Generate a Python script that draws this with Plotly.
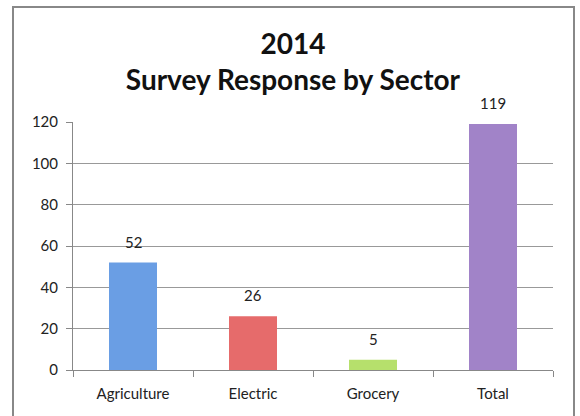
import plotly.graph_objects as go

categories = ["Agriculture", "Electric", "Grocery", "Total"]
responses = [52, 26, 5, 119]
bar_colors = ["#6A9EE4", "#E66B6B", "#B6E06C", "#A183C8"]
y_ticks = [0, 20, 40, 60, 80, 100, 120]

fig = go.Figure()
fig.add_trace(go.Bar(
    x=categories,
    y=responses,
    marker=dict(color=bar_colors, line=dict(width=0)),
    width=0.4,
    cliponaxis=False,
))

for c, v in zip(categories, responses):
    fig.add_annotation(
        x=c, y=v, text=str(v), showarrow=False,
        yanchor="bottom", yshift=10,
        font=dict(family="Lato", size=15, color="#222222"),
    )

fig.update_layout(
    width=580,
    height=416,
    paper_bgcolor="white",
    plot_bgcolor="white",
    margin=dict(l=73, r=27, t=122, b=46),
    showlegend=False,
    title=dict(
        text="2014<br>Survey Response by Sector",
        x=0.505,
        xanchor="center",
        yref="container",
        y=1 - 54 / 416,
        yanchor="top",
        font=dict(family="Lato", size=28, color="#111111", weight="bold"),
    ),
    font=dict(family="Lato", size=15, color="#222222"),
    xaxis=dict(
        showline=True,
        linecolor="#888888",
        linewidth=1,
        ticks="outside",
        tickson="boundaries",
        ticklen=6,
        tickcolor="#888888",
        showgrid=False,
        ticklabelstandoff=10,
        tickfont=dict(family="Lato", size=15, color="#222222"),
    ),
    yaxis=dict(
        range=[0, 120],
        tickvals=y_ticks,
        showline=True,
        linecolor="#888888",
        linewidth=1,
        ticks="outside",
        ticklen=6,
        tickcolor="#888888",
        showgrid=True,
        gridcolor="#999999",
        gridwidth=1,
        zeroline=False,
        ticklabelstandoff=5,
        tickfont=dict(family="Lato", size=15, color="#222222"),
    ),
    shapes=[dict(
        type="rect", xref="paper", yref="paper",
        x0=-60 / 480, x1=501 / 480, y0=-0.3, y1=(370 - 7) / 248,
        line=dict(color="#888888", width=2), fillcolor="rgba(0,0,0,0)",
        layer="below",
    )],
)

fig.write_html(
    "out.html",
    config={"displayModeBar": False},
    post_script="document.body.style.margin='0';",
)
